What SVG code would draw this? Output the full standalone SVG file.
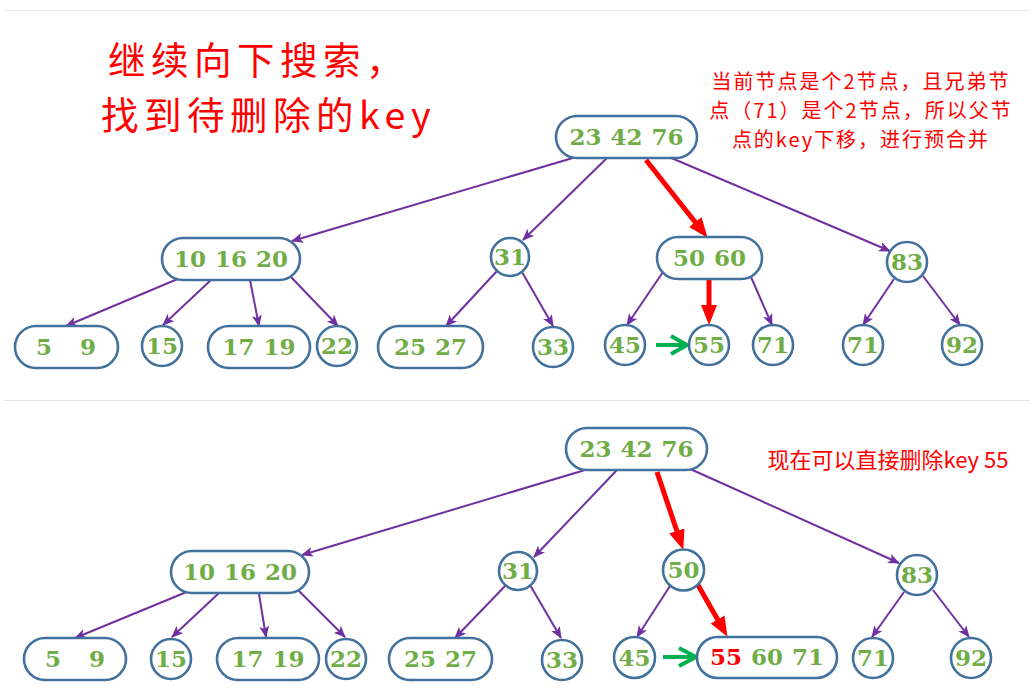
<svg xmlns="http://www.w3.org/2000/svg" width="1032" height="698" viewBox="0 0 1032 698">
<style>
.nd{fill:#fff;stroke:#41719C;stroke-width:2.6}
.t{font-family:"DejaVu Serif","Liberation Serif",serif;font-weight:bold;font-size:23px;fill:#70AD47;text-anchor:middle;word-spacing:1px}
.e{stroke:#7030A0;stroke-width:2;fill:none;marker-end:url(#ap)}
.r{stroke:#FF0000;stroke-width:5;fill:none;marker-end:url(#ar)}
.g{stroke:#00B050;stroke-width:4;fill:none;stroke-linejoin:miter}
.cn{font-family:"Noto Sans CJK SC","Noto Sans",sans-serif;fill:#FF0000}
.nt{font-size:20px;letter-spacing:2px;text-anchor:middle}
.tt{font-size:37.5px;letter-spacing:5.5px}
.div{stroke:#E6E6E6;stroke-width:1.2}
</style>
<defs>
<marker id="ap" markerUnits="userSpaceOnUse" markerWidth="12" markerHeight="10" viewBox="0 0 12 10" refX="11" refY="5" orient="auto"><path d="M0,0 L12,5 L0,10 L3,5 z" fill="#7030A0"/></marker>
<marker id="ar" markerUnits="userSpaceOnUse" markerWidth="20" markerHeight="16" viewBox="0 0 20 16" refX="11" refY="8" orient="auto"><path d="M0,0 L20,8 L0,16 z" fill="#FF0000"/></marker>
</defs>
<rect width="1032" height="698" fill="#fff"/>
<line class="div" x1="4" y1="10.5" x2="1030" y2="10.5"/>
<line class="div" x1="4" y1="400.5" x2="1030" y2="400.5"/>

<g id="title">
<text class="cn tt" x="108" y="74">继续向下搜索，</text>
<text class="cn tt" x="101" y="129">找到待删除的key</text>
</g>
<g id="note-top">
<text class="cn nt" x="861" y="89">当前节点是个2节点，且兄弟节</text>
<text class="cn nt" x="861" y="118">点（71）是个2节点，所以父节</text>
<text class="cn nt" x="861" y="147">点的key下移，进行预合并</text>
</g>
<g id="note-bottom">
<text class="cn" font-size="22" text-anchor="middle" x="888" y="468">现在可以直接删除key 55</text>
</g>

<g id="connectors">
<path class="e" d="M583,155 L292,241"/>
<path class="e" d="M607,158 L523,240"/>
<path class="e" d="M669,157 L890,251"/>
<path class="e" d="M180,278 L66,326"/>
<path class="e" d="M211,280 L163,325"/>
<path class="e" d="M250,280 L259,326"/>
<path class="e" d="M290,276 L338,326"/>
<path class="e" d="M497,271 L446,326"/>
<path class="e" d="M522,272 L553,326"/>
<path class="e" d="M663,272 L627,325"/>
<path class="e" d="M751,277 L772,325"/>
<path class="e" d="M894,279 L863,325"/>
<path class="e" d="M923,276 L960,325"/>
<path class="r" d="M646,160 L702,230.7"/>
<path class="r" d="M709,279 L709,316"/>
<path class="g" d="M656,345 H686 M671,336 L687,345 L671,354"/>

<path class="e" d="M595,467 L302,555"/>
<path class="e" d="M617,470 L534,557"/>
<path class="e" d="M688,468 L899,563"/>
<path class="e" d="M189,591 L75,638"/>
<path class="e" d="M219,593 L172,637"/>
<path class="e" d="M259,594 L266,637"/>
<path class="e" d="M298,590 L345,637"/>
<path class="e" d="M506,585 L455,638"/>
<path class="e" d="M530,585 L561,638"/>
<path class="e" d="M670,586 L637,637"/>
<path class="e" d="M904,592 L872,637"/>
<path class="e" d="M933,590 L969,637"/>
<path class="r" d="M657,472 L680.4,541.4"/>
<path class="r" d="M698,585 L723,629"/>
<path class="g" d="M663,657 H695 M679,648 L696,657 L679,666"/>
</g>

<!-- top tree -->
<g id="t-root"><rect class="nd" x="556" y="116" width="141" height="42" rx="21"/><text class="t" x="626.5" y="145">23 42 76</text></g>
<g id="t-n101620"><rect class="nd" x="162" y="238" width="138" height="42" rx="21"/><text class="t" x="231" y="267">10 16 20</text></g>
<g id="t-n31"><circle class="nd" cx="510" cy="257" r="19"/><text class="t" x="510" y="265">31</text></g>
<g id="t-n5060"><rect class="nd" x="657" y="237" width="105" height="42" rx="21"/><text class="t" x="709.5" y="266">50 60</text></g>
<g id="t-n83"><circle class="nd" cx="907" cy="262" r="20"/><text class="t" x="907" y="270">83</text></g>
<g id="t-l59"><rect class="nd" x="15" y="326" width="103" height="42" rx="21"/><text class="t" x="44" y="355">5</text><text class="t" x="88" y="355">9</text></g>
<g id="t-l15"><circle class="nd" cx="162" cy="346" r="20"/><text class="t" x="162" y="354">15</text></g>
<g id="t-l1719"><rect class="nd" x="208" y="326" width="102" height="42" rx="21"/><text class="t" x="259" y="355">17 19</text></g>
<g id="t-l22"><circle class="nd" cx="337" cy="346" r="20"/><text class="t" x="337" y="354">22</text></g>
<g id="t-l2527"><rect class="nd" x="378" y="326" width="105" height="42" rx="21"/><text class="t" x="430.5" y="355">25 27</text></g>
<g id="t-l33"><circle class="nd" cx="553" cy="347" r="20"/><text class="t" x="553" y="355">33</text></g>
<g id="t-l45"><circle class="nd" cx="625" cy="345" r="20"/><text class="t" x="625" y="353">45</text></g>
<g id="t-l55"><circle class="nd" cx="709" cy="345" r="20"/><text class="t" x="709" y="353">55</text></g>
<g id="t-l71a"><circle class="nd" cx="773" cy="345" r="20"/><text class="t" x="773" y="353">71</text></g>
<g id="t-l71b"><circle class="nd" cx="863" cy="345" r="20"/><text class="t" x="863" y="353">71</text></g>
<g id="t-l92"><circle class="nd" cx="962" cy="345" r="20"/><text class="t" x="962" y="353">92</text></g>

<!-- bottom tree -->
<g id="b-root"><rect class="nd" x="566" y="428" width="141" height="42" rx="21"/><text class="t" x="636.5" y="457">23 42 76</text></g>
<g id="b-n101620"><rect class="nd" x="171" y="551" width="138" height="42" rx="21"/><text class="t" x="240" y="580">10 16 20</text></g>
<g id="b-n31"><circle class="nd" cx="518" cy="571" r="19"/><text class="t" x="518" y="579">31</text></g>
<g id="b-n50"><circle class="nd" cx="683.5" cy="570" r="20.5"/><text class="t" x="683.5" y="578">50</text></g>
<g id="b-n83"><circle class="nd" cx="917" cy="575" r="20"/><text class="t" x="917" y="583">83</text></g>
<g id="b-l59"><rect class="nd" x="24" y="638" width="102" height="42" rx="21"/><text class="t" x="53" y="667">5</text><text class="t" x="97" y="667">9</text></g>
<g id="b-l15"><circle class="nd" cx="171" cy="659" r="20"/><text class="t" x="171" y="667">15</text></g>
<g id="b-l1719"><rect class="nd" x="217" y="638" width="102" height="42" rx="21"/><text class="t" x="268" y="667">17 19</text></g>
<g id="b-l22"><circle class="nd" cx="346" cy="659" r="20"/><text class="t" x="346" y="667">22</text></g>
<g id="b-l2527"><rect class="nd" x="389" y="638" width="103" height="42" rx="21"/><text class="t" x="440.5" y="667">25 27</text></g>
<g id="b-l33"><circle class="nd" cx="562" cy="660" r="20"/><text class="t" x="562" y="668">33</text></g>
<g id="b-l45"><circle class="nd" cx="634.5" cy="657.5" r="20.5"/><text class="t" x="634.5" y="665.5">45</text></g>
<g id="b-l556071"><rect class="nd" x="697" y="637" width="140" height="41" rx="20.5"/><text class="t" x="767" y="665"><tspan fill="#FF0000">55</tspan> 60 71</text></g>
<g id="b-l71"><circle class="nd" cx="873" cy="658" r="20"/><text class="t" x="873" y="666">71</text></g>
<g id="b-l92"><circle class="nd" cx="971" cy="658" r="20"/><text class="t" x="971" y="666">92</text></g>
</svg>
